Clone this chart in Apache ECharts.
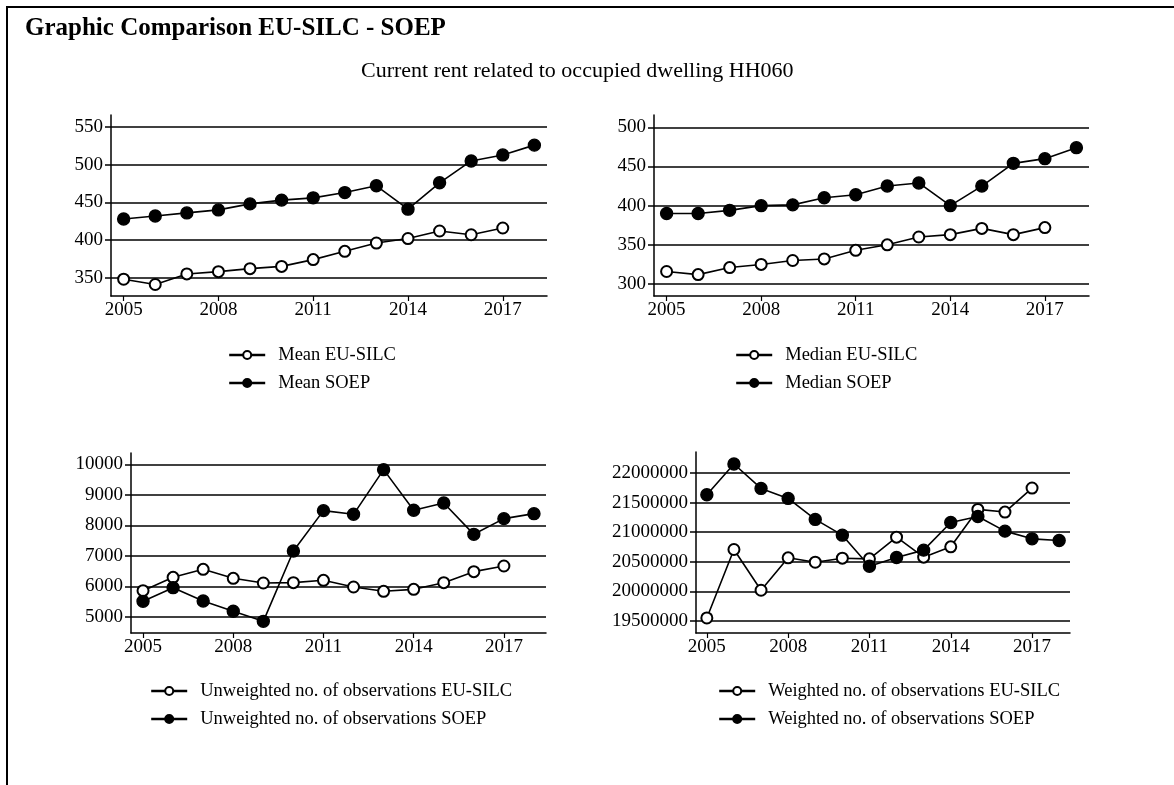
<!DOCTYPE html>
<html><head><meta charset="utf-8">
<script src="https://cdn.jsdelivr.net/npm/echarts@6/dist/echarts.min.js"></script>
<style>html,body{margin:0;padding:0;background:#fff}#c{width:1174px;height:785px}</style>
</head><body><div id="c"></div>
<script>
const years = [2005,2006,2007,2008,2009,2010,2011,2012,2013,2014,2015,2016,2017,2018];
const xTicks = [2005,2008,2011,2014,2017];

const meanEU   = [348,341,355,358,362,365,374,385,396,402,412,407,416];
const meanSOEP = [428,432,436,440,448,453,456,463,472,441,476,505,513,526];
const medianEU   = [316,312,321,325,330,332,343,350,360,363,371,363,372];
const medianSOEP = [390,390,394,400,401,410,414,425,429,400,425,454,460,474];
const unwEU   = [5862,6299,6561,6266,6114,6124,6201,5983,5841,5906,6124,6485,6670];
const unwSOEP = [5513,5961,5524,5186,4858,7162,8483,8362,9825,8494,8734,7707,8221,8384];
const wEU   = [19551000,20708000,20019000,20567000,20493000,20561000,20550000,20916000,20578000,20753000,21385000,21340000,21746000];
const wSOEP = [21633000,22152000,21740000,21571000,21216000,20950000,20426000,20572000,20697000,21165000,21266000,21018000,20888000,20860000];

const yTicks0 = [350,400,450,500,550];
const yTicks1 = [300,350,400,450,500];
const yTicks2 = [5000,6000,7000,8000,9000,10000];
const yTicks3 = [19500000,20000000,20500000,21000000,21500000,22000000];

const names = [
  ['Mean EU-SILC','Mean SOEP'],
  ['Median EU-SILC','Median SOEP'],
  ['Unweighted no. of observations EU-SILC','Unweighted no. of observations SOEP'],
  ['Weighted no. of observations EU-SILC','Weighted no. of observations SOEP']
];
const seriesData = [[meanEU,meanSOEP],[medianEU,medianSOEP],[unwEU,unwSOEP],[wEU,wSOEP]];
const yTicks = [yTicks0,yTicks1,yTicks2,yTicks3];

const FONT = 'Liberation Serif';
const grids = [
  {left:111, top:115, width:436, height:181},
  {left:654, top:115, width:435, height:181},
  {left:131, top:453, width:415, height:180},
  {left:696, top:452, width:374, height:181}
];
const yRanges = [[325.7,566],[284.7,515.7],[4476,10370],[19297000,22355000]];
const legendPos = [
  {left:223, top:340},
  {left:730, top:340},
  {left:145, top:676},
  {left:713, top:676}
];

const xAxes = grids.map((g,i)=>({
  type:'value', gridIndex:i, min:2004.6, max:2018.4,
  axisLine:{show:true, onZero:false, lineStyle:{color:'#000', width:1.5}},
  axisTick:{show:true, length:5, customValues:xTicks, lineStyle:{color:'#000', width:1.2}},
  axisLabel:{customValues:xTicks, color:'#000', fontFamily:FONT, fontSize:19, margin:5, formatter:v=>String(v)},
  splitLine:{show:false}
}));
const yAxes = grids.map((g,i)=>({
  type:'value', gridIndex:i, min:yRanges[i][0], max:yRanges[i][1],
  axisLine:{show:true, lineStyle:{color:'#000', width:1.5}},
  axisTick:{show:true, length:6, customValues:yTicks[i], lineStyle:{color:'#000', width:1.5}},
  axisLabel:{customValues:yTicks[i], color:'#000', fontFamily:FONT, fontSize:19, margin:8, formatter:v=>String(v)},
  splitLine:{show:true, lineStyle:{color:'#000', width:1.5}}
}));

const series = [];
seriesData.forEach((pair,i)=>{
  pair.forEach((arr,j)=>{
    series.push({
      type:'line', name:names[i][j], xAxisIndex:i, yAxisIndex:i,
      data:arr.map((v,k)=>[years[k],v]),
      symbol: j===0 ? 'emptyCircle' : 'circle',
      symbolSize: j===0 ? 11 : 12,
      showAllSymbol:true,
      lineStyle:{color:'#000', width:1.6},
      itemStyle:{color:'#000', borderColor:'#000', borderWidth:1.4},
      emphasis:{disabled:true},
      z: 3
    });
  });
});

const legends = legendPos.map((p,i)=>({
  data:names[i], orient:'vertical', left:p.left, top:p.top,
  itemWidth:36, itemHeight:10, itemGap:8, selectedMode:false,
  lineStyle:{width:2.4, color:'#000'},
  textStyle:{color:'#000', fontFamily:FONT, fontSize:18.5, lineHeight:20, padding:[0,0,0,8]}
}));

const chart = echarts.init(document.getElementById('c'), null, {renderer:'canvas'});
chart.setOption({
  animation:false,
  backgroundColor:'#fff',
  grid:grids,
  xAxis:xAxes,
  yAxis:yAxes,
  legend:legends,
  series:series,
  graphic:[
    {type:'line', shape:{x1:7, y1:6, x2:7, y2:785}, style:{stroke:'#000', lineWidth:2}},
    {type:'line', shape:{x1:6, y1:7, x2:1174, y2:7}, style:{stroke:'#000', lineWidth:2}},
    {type:'text', left:25, top:16, style:{text:'Graphic Comparison EU-SILC - SOEP', font:'bold 25px "Liberation Serif"', fill:'#000'}},
    {type:'text', left:361, top:60, style:{text:'Current rent related to occupied dwelling HH060', font:'22px "Liberation Serif"', fill:'#000'}}
  ]
});
</script>
</body></html>
